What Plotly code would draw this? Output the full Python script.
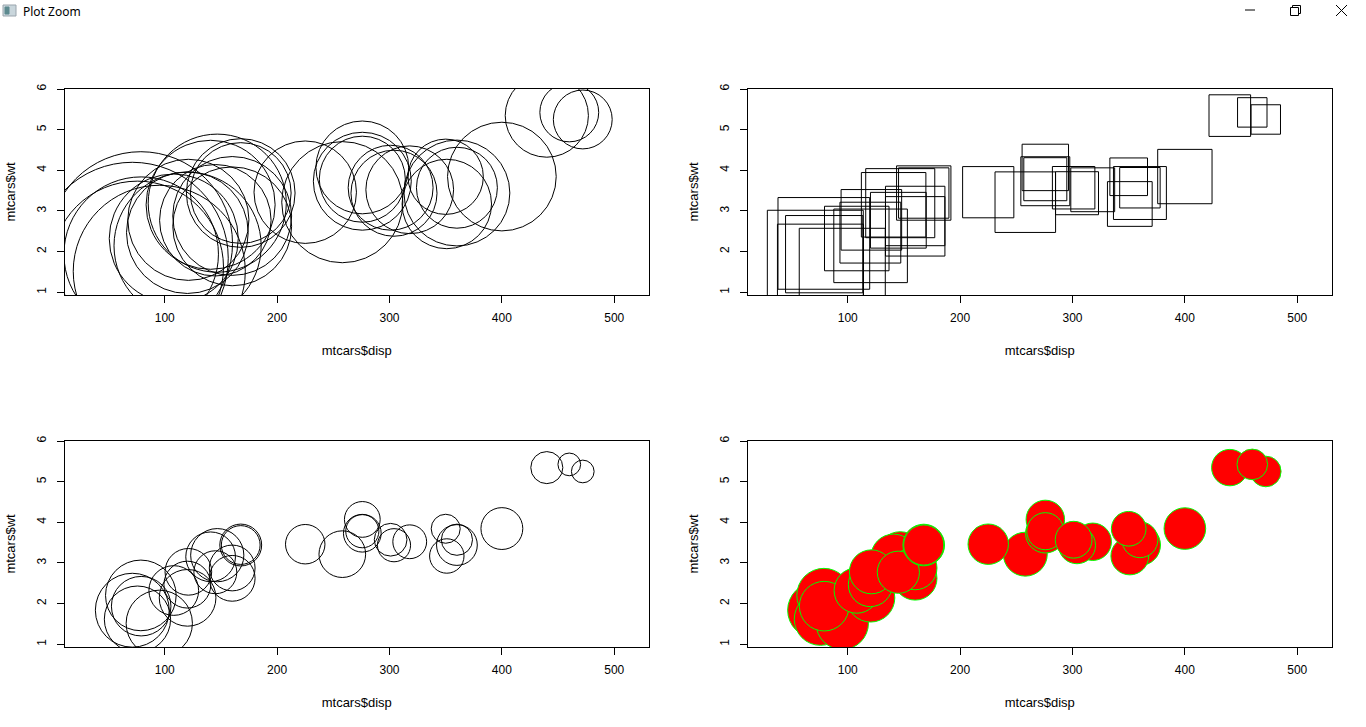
import plotly.graph_objects as go

W, H = 1366, 727

disp = [160, 160, 108, 258, 360, 225, 360, 146.7, 140.8, 167.6, 167.6, 275.8, 275.8, 275.8, 472, 460,
        440, 78.7, 75.7, 71.1, 120.1, 318, 304, 350, 400, 79, 120.3, 95.1, 351, 145, 301, 121]
wt = [2.62, 2.875, 2.32, 3.215, 3.44, 3.46, 3.57, 3.19, 3.15, 3.44, 3.44, 4.07, 3.73, 3.78, 5.25, 5.424,
      5.345, 2.2, 1.615, 1.835, 2.465, 3.52, 3.435, 3.84, 3.845, 1.935, 2.14, 1.513, 3.17, 2.77, 3.57, 2.78]
mpg = [21, 21, 22.8, 21.4, 18.7, 18.1, 14.3, 24.4, 22.8, 19.2, 17.8, 16.4, 17.3, 15.2, 10.4, 10.4,
       14.7, 32.4, 30.4, 33.9, 21.5, 15.5, 15.2, 13.3, 19.2, 27.3, 26, 30.4, 15.8, 19.7, 15, 21.4]
x_ticks = [100, 200, 300, 400, 500]
y_ticks = [1, 2, 3, 4, 5, 6]

order = sorted(range(len(mpg)), key=lambda i: -mpg[i])
X = [disp[i] for i in order]
Y = [wt[i] for i in order]
M = [mpg[i] for i in order]

INK = "#000000"
CLEAR = "rgba(0,0,0,0)"
FONT = "Liberation Sans"

panels = [
    dict(box=(65, 648.5, 89, 295), symbol="circle", size=[2 * 2.83 * m for m in M], fill=CLEAR, line=INK),
    dict(box=(748, 1331.5, 89, 295), symbol="square", size=[2.83 * m for m in M], fill=CLEAR, line=INK),
    dict(box=(65, 648.5, 441, 647), symbol="circle", size=[2 * 1.09 * m for m in M], fill=CLEAR, line=INK),
    dict(box=(748, 1331.5, 441, 647), symbol="circle", size=[2 * 4.75 * m ** 0.5 for m in M], fill="#ff0000", line="#00ff00"),
]

fig = go.Figure()
layout = {}
for n, p in enumerate(panels, 1):
    x0, x1, y0, y1 = p["box"]
    suffix = "" if n == 1 else str(n)
    fig.add_trace(go.Scatter(
        x=X, y=Y, mode="markers", xaxis="x" + suffix, yaxis="y" + suffix, showlegend=False, hoverinfo="skip",
        marker=dict(symbol=p["symbol"], size=p["size"], color=p["fill"], line=dict(color=p["line"], width=1), opacity=1),
    ))
    common = dict(showgrid=False, zeroline=False, showline=True, mirror=True, linecolor=INK, linewidth=1, automargin=False,
                  ticks="outside", ticklen=7, tickwidth=1, tickcolor=INK, tickfont=dict(family=FONT, size=12, color="#000000"))
    layout["xaxis" + suffix] = dict(
        domain=[x0 / W, x1 / W], range=[11.2, 530.5], anchor="y" + suffix, tickmode="array", tickvals=x_ticks,
        ticktext=[str(v) for v in x_ticks], tickangle=0, ticklabelstandoff=5,
        title=dict(text="mtcars$disp", standoff=21, font=dict(family=FONT, size=13, color="#000000")), **common)
    layout["yaxis" + suffix] = dict(
        domain=[1 - y1 / H, 1 - y0 / H], range=[0.93, 6.0], anchor="x" + suffix, tickmode="array", tickvals=y_ticks,
        ticktext=[str(v) for v in y_ticks], tickangle=-90, ticklabelstandoff=6,
        title=dict(text="mtcars$wt", standoff=16, font=dict(family=FONT, size=13, color="#000000")), **common)


def seg(a, b, c, d, color="#000000", width=1):
    return dict(type="line", xref="paper", yref="paper", x0=a / W, x1=c / W, y0=1 - b / H, y1=1 - d / H,
                line=dict(color=color, width=width))


def rect(a, b, c, d, line="#000000", fill=CLEAR, width=1):
    return dict(type="rect", xref="paper", yref="paper", x0=a / W, x1=c / W, y0=1 - b / H, y1=1 - d / H,
                line=dict(color=line, width=width), fillcolor=fill)


shapes = [
    rect(3, 5, 16, 16, line="#9aa5ad", fill="#c9d6dc"),
    rect(5, 7, 9, 14, line="#5d8a8f", fill="#5d8a8f"),
    seg(1245, 10, 1255, 10),
    rect(1290.5, 7.5, 1298.5, 15.5),
    seg(1292.5, 7.5, 1292.5, 5.5), seg(1292.5, 5.5, 1300.5, 5.5), seg(1300.5, 5.5, 1300.5, 13.5), seg(1300.5, 13.5, 1298.5, 13.5),
    seg(1336, 5, 1347, 16), seg(1336, 16, 1347, 5),
]

fig.update_layout(
    width=W, height=H, margin=dict(l=0, r=0, t=0, b=0), autosize=False,
    paper_bgcolor="#ffffff", plot_bgcolor="#ffffff", shapes=shapes,
    annotations=[dict(text="Plot Zoom", xref="paper", yref="paper", x=21 / W, y=1 - 11 / H, xanchor="left",
                      yanchor="middle", showarrow=False, font=dict(family="Noto Sans", size=12, color="#000000"))],
    **layout,
)
fig.write_html("out.html", config=dict(displayModeBar=False),
               post_script="document.body.style.margin='0';document.documentElement.style.overflow='hidden';")
